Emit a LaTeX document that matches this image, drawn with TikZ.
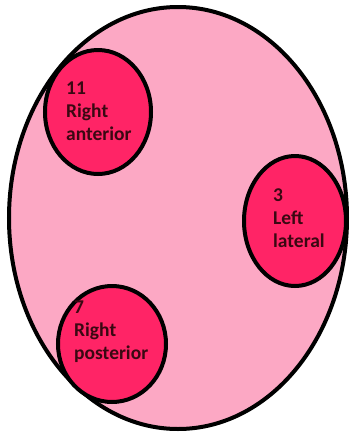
\documentclass[tikz,border=0pt]{standalone}
\usepackage{fontspec}
\setmainfont{Carlito}
\definecolor{bodypink}{HTML}{FCA8C4}
\definecolor{hotpink}{HTML}{FF2466}
\definecolor{labeltext}{HTML}{3A0812}
\begin{document}
\begin{tikzpicture}[x=1pt,y=-1pt,
  outer/.style={draw=black,line width=4pt,fill=bodypink},
  spot/.style={draw=black,line width=4pt,fill=hotpink},
  lbl/.style={anchor=north west,align=left,inner sep=0pt,text=labeltext,
    font=\bfseries\fontsize{19.5}{23}\selectfont}]
\useasboundingbox (0,0) rectangle (350,432);
\fill[white] (0,0) rectangle (350,432);
\draw[outer] (178,218) ellipse [x radius=169, y radius=211];
\draw[spot] (98,112) ellipse [x radius=53, y radius=62];
\draw[spot] (295,221) ellipse [x radius=51, y radius=65];
\draw[spot] (112,344) ellipse [x radius=54, y radius=58];
\node[lbl] (ra) at (66,82) {11\\Right\\anterior};
\node[lbl] (ll) at (273,189) {3\\Left\\lateral};
\node[lbl] (rp) at (74,301) {7\\Right\\posterior};
\end{tikzpicture}
\end{document}
